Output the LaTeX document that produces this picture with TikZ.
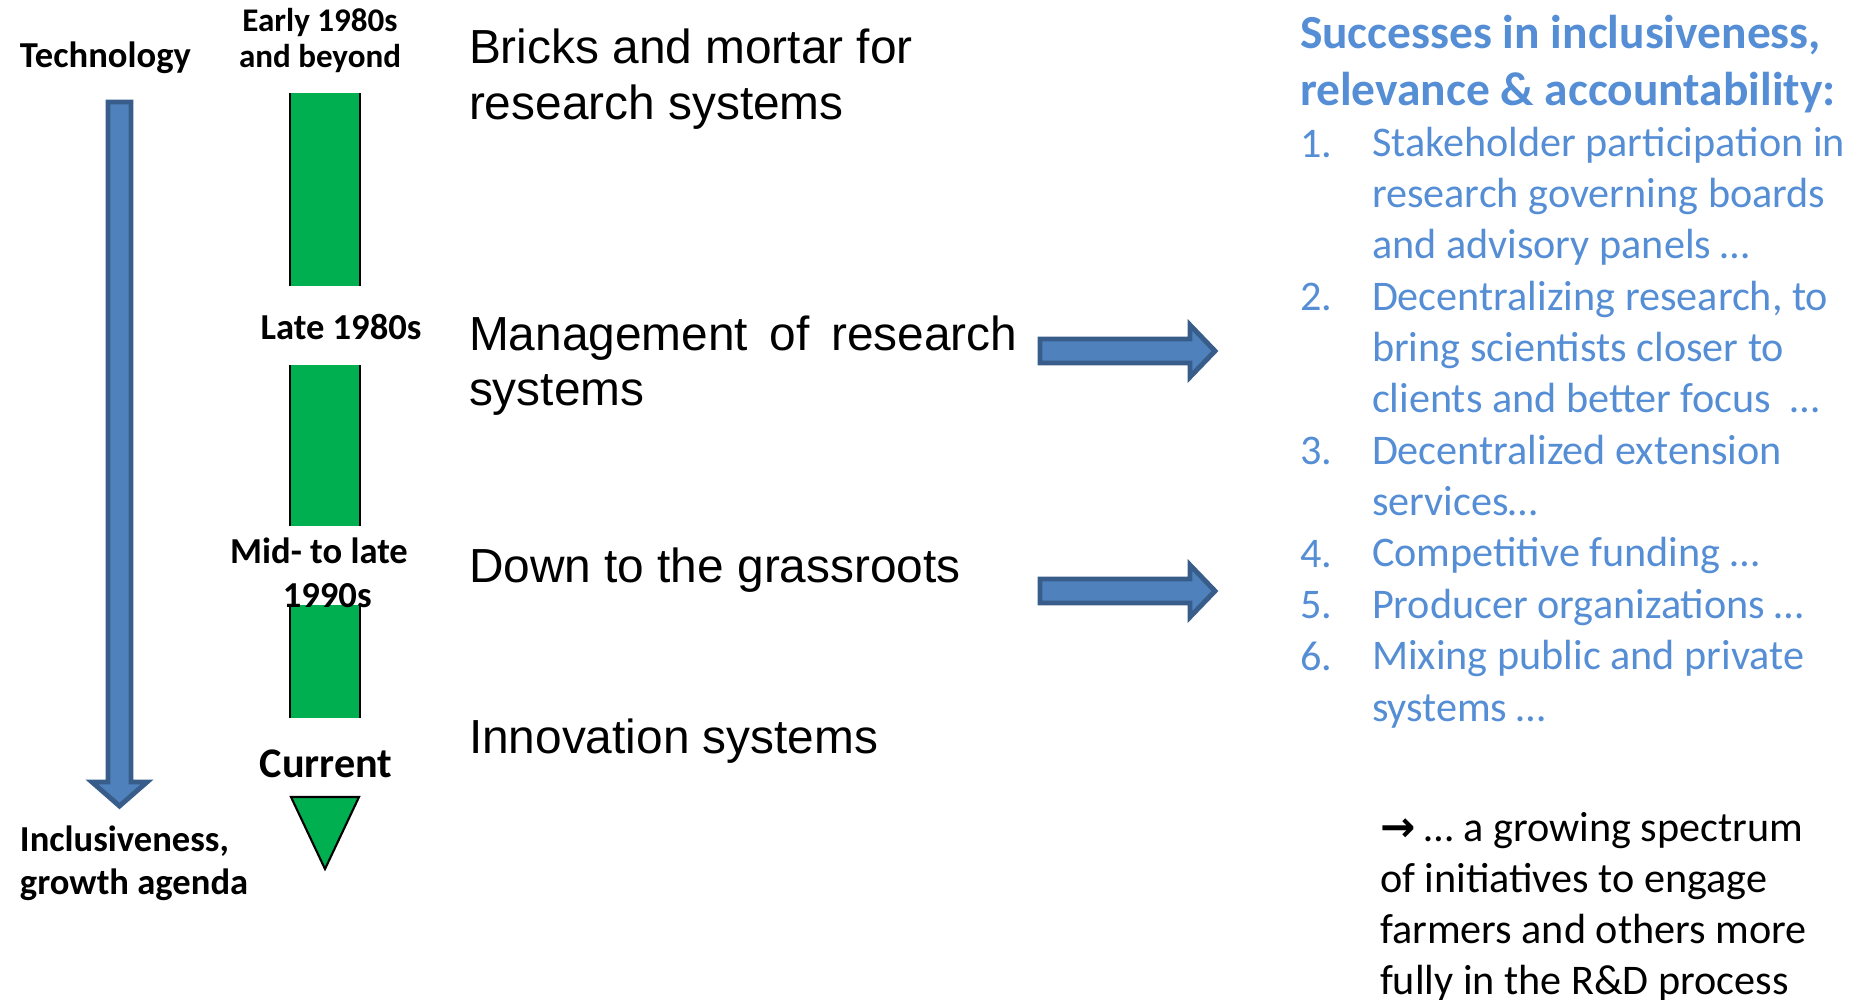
\documentclass[tikz,border=0pt]{standalone}
\usepackage{fontspec}
\setmainfont{Carlito}
\newfontfamily\arialfont{Liberation Sans}
\newfontfamily\symfont{DejaVu Sans}
\definecolor{barGreen}{RGB}{0,176,80}
\definecolor{arrowFill}{RGB}{79,129,189}
\definecolor{arrowLine}{RGB}{56,93,138}
\definecolor{listBlue}{RGB}{85,142,213}

\begin{document}
\begin{tikzpicture}[x=0.01cm,y=-0.01cm]
    \tikzstyle{every node}=[inner sep=0pt, outer sep=0pt]
    \tikzstyle{era}=[font=\fontsize{10.4pt}{12.5pt}\selectfont\bfseries, align=center, anchor=base]
    \tikzstyle{axis label}=[font=\fontsize{10.4pt}{12pt}\selectfont\bfseries, align=left, anchor=base west]
    \tikzstyle{stage}=[font=\arialfont\fontsize{13.6pt}{15.8pt}\selectfont, align=left, anchor=base west]
    \tikzstyle{success}=[text=listBlue, align=left, anchor=base west, font=\fontsize{12pt}{14.6pt}\selectfont]
    \tikzstyle{block arrow}=[fill=arrowFill, draw=arrowLine, line width=1.4pt, line join=miter]
    \tikzstyle{bar}=[fill=barGreen]

    \useasboundingbox (0,0) rectangle (1866,999);

    % Draw the big time arrow on the left (multi-line nodes sit on their last line)
    \node[axis label] (tech) at (20,67) {Technology};
    \draw[block arrow] (108,102) -- (131,102) -- (131,782) -- (147,782)
        -- (119.5,806) -- (92,782) -- (108,782) -- cycle;
    \node[axis label] (incl) at (20,894) {Inclusiveness,\\growth agenda};

    % Draw the green time bar
    \foreach \top / \bottom in {93/286, 365/526, 605/718} {
        \fill[bar] (290,\top) rectangle (360,\bottom);
        \draw[line width=0.6pt] (290,\top) -- (290,\bottom) (360,\top) -- (360,\bottom);
    }
    \draw[bar, draw=black, line width=0.6pt] (291,797) -- (359,797) -- (325,869) -- cycle;

    % Draw the era labels
    \node[era, font=\fontsize{9.4pt}{10pt}\selectfont\bfseries] (early) at (320,67) {Early 1980s\\and beyond};
    \node[era] (late) at (341,339) {Late 1980s};
    \node[era] (mid) at (319,607) {Mid- to late\\\hspace*{0.45em}1990s};
    \node[era, font=\fontsize{12pt}{14pt}\selectfont\bfseries] (current) at (326,777) {Current};

    % Draw the stages
    \node[stage] (bricks) at (469,119) {Bricks and mortar for\\research systems};
    \node[stage, text width=5.48cm, align=justify] (manage) at (469,350) {Management of research systems};
    \node[stage] (grass) at (469,582) {Down to the grassroots};
    \node[stage] (innov) at (469,753) {Innovation systems};

    % Draw the arrows towards the successes
    \foreach \y in {351,591}
        \draw[block arrow] (1040,\y) ++(0,-12) -- ++(150,0) -- ++(0,-14) -- ++(25,26)
            -- ++(-25,26) -- ++(0,-14) -- ++(-150,0) -- cycle;

    % Draw the list of successes
    \node[success, font=\fontsize{13.5pt}{16.2pt}\selectfont\bfseries] (title) at (1300,105)
        {Successes in inclusiveness,\\relevance \& accountability:};
    \foreach \num / \line in {1/0, 2/3, 3/6, 4/8, 5/9, 6/10}
        \node[success] (num-\num) at (1300,157+51.3*\line) {\num.};
    \node[success] (items) at (1372,721) {Stakeholder participation in\\research governing boards\\and advisory panels …\\Decentralizing research, to\\bring scientists closer to\\clients and better focus\ \ …\\Decentralized extension\\services…\\Competitive funding …\\Producer organizations …\\Mixing public and private\\systems …};

    \node[success, text=black, font=\fontsize{12pt}{14.5pt}\selectfont] (spectrum) at (1380,994)
        {{\symfont\bfseries →}\ … a growing spectrum\\of initiatives to engage\\farmers and others more\\fully in the R\&D process};
\end{tikzpicture}
\end{document}
